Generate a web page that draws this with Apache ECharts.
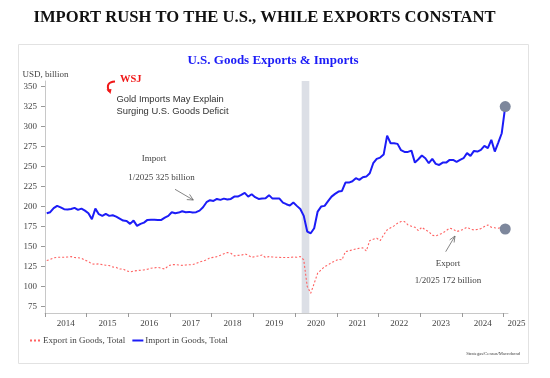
<!DOCTYPE html>
<html><head><meta charset="utf-8">
<script src="https://cdn.jsdelivr.net/npm/echarts@6/dist/echarts.min.js"></script>
<style>html,body{margin:0;padding:0;background:#fff}#c{width:550px;height:378px}</style>
</head><body><div id="c"></div>
<script>
// Monthly data, Jan 2014 .. Jan 2025 (USD billion)
const startYear = 2014;
const years = [2014,2015,2016,2017,2018,2019,2020,2021,2022,2023,2024,2025];
const yTicks = [75,100,125,150,175,200,225,250,275,300,325,350];
const imports = [
191.7,193,198,200.9,199,196.7,196.5,197,198.4,195.9,
197.5,195,191.7,184.2,197.5,190.5,188.4,190.9,188.4,189.2,
187.5,185,182.5,182.1,178.4,182.5,175.9,178.4,180,183.4,
183.6,183.5,183.4,183.4,186.3,188.4,193,191.7,192.5,194.2,
193,193.4,192.5,193,195,199.2,205.5,208,207.1,209.6,
208.4,210,208.8,209.6,212.5,212.5,214.6,217.1,212.5,215.5,
211.8,209.6,210,210.4,214.3,210,210,210,205,203,
201.3,205,200.9,197,188.4,168.8,166.7,173,193.8,200,
200.9,206.8,212.5,215.9,218.8,219.6,230,230,231.7,235.5,
233.4,236.7,237.5,241.7,254.2,259.6,261.3,265,288.8,279.2,
279.2,278.4,270.5,268.4,268.4,270,255,259.2,263.8,260.5,
254.2,259.6,253.4,252.1,255,255,258.4,258.4,255.9,258.4,
260.5,266.8,263.4,269.6,268.8,270.9,275.9,273,283.4,268.8,
280,291.7,325];
const exports = [
132.5,134,135.9,136.7,136.7,136.7,137,137.5,136.3,136,
135.5,133,131.3,128.4,128,128.4,127.5,126.7,126.3,124.5,
124,122,122.1,119.6,118.4,119.5,120,120.5,120.9,121.7,
123,123.4,124.2,123,122,125.9,127.5,127.5,127,126.5,
127,127.3,127.5,128.8,130.7,132,133.4,136,136.5,137.5,
139.2,141,142.5,141.7,138.4,139,139.2,140.9,139.2,136.7,
137.5,138.4,139.6,136.3,137.5,137,136.7,136.5,136.3,136.3,
136.3,137,136.7,137.5,133.4,100,91.7,104,116.8,120.9,
125,127.1,130,132,134.2,133.4,143.8,144.6,145.9,147,
148,148.4,144.6,157.5,159.2,160.5,157.5,164.6,170.9,173.5,
175.9,179.2,181.3,181.3,177.1,175.5,174.2,170,174.2,170.9,
168.8,164.2,163.4,165,166.8,170,173,171.8,168.8,170,
171.8,174.2,171.8,170.9,171.5,172.5,175,177.1,174.2,173.5,
173,174.2,172];
// Recession band (months since Jan 2014)
const recession = [73.9, 76.1];
const seriesNames = ['Export in Goods, Total', 'Import in Goods, Total'];

const toXY = arr => arr.map((v, i) => [i + 0.5, v]);
const lastPt = arr => [arr.length - 0.5, arr[arr.length - 1]];
const yearTicks = years.map((y, i) => i * 12);
const yearLabels = years.map((y, i) => i < years.length - 1 ? i * 12 + 6 : i * 12 + 1);

const serif = 'Liberation Serif';
const chart = echarts.init(document.getElementById('c'), null, {renderer: 'canvas'});
const markerStyle = {symbol: 'circle', symbolSize: 11, itemStyle: {color: '#7d879c'}, label: {show: false}};

chart.setOption({
  animation: false,
  backgroundColor: '#fff',
  grid: {left: 45, right: 42, top: 81, bottom: 65},
  xAxis: {
    type: 'value', min: 0, max: 133.3,
    axisLine: {show: true, lineStyle: {color: '#c8c8c8'}},
    axisTick: {show: true, length: 4, lineStyle: {color: '#999'}, customValues: yearTicks},
    splitLine: {show: false},
    axisLabel: {
      customValues: yearLabels, margin: 6,
      fontFamily: serif, fontSize: 9, color: '#444',
      formatter: v => {
        const y = startYear + Math.floor(v / 12);
        return y === years[years.length - 1] ? '{e|' + y + '}' : String(y);
      },
      rich: {e: {padding: [0, 0, 0, 19], fontFamily: serif, fontSize: 9, color: '#444'}}
    }
  },
  yAxis: {
    type: 'value', min: 67, max: 357,
    axisLine: {show: true, lineStyle: {color: '#c8c8c8'}},
    axisTick: {show: true, length: 4, lineStyle: {color: '#999'}, customValues: yTicks},
    splitLine: {show: false},
    axisLabel: {customValues: yTicks, fontFamily: serif, fontSize: 9, color: '#444', margin: 8}
  },
  legend: {
    data: seriesNames, left: 24, top: 331, itemWidth: 11, itemHeight: 8, itemGap: 6,
    itemStyle: {opacity: 0},
    textStyle: {fontFamily: serif, fontSize: 9, color: '#444', padding: [0, 0, 0, -3]}
  },
  series: [
    {
      name: 'band', type: 'line', data: [], silent: true,
      markArea: {silent: true, itemStyle: {color: '#dcdfe6'},
        data: [[{xAxis: recession[0]}, {xAxis: recession[1]}]]}
    },
    {
      name: seriesNames[0], type: 'line', data: toXY(exports), symbol: 'none',
      lineStyle: {color: '#ff6262', width: 1.1, type: [2, 2]}, itemStyle: {color: '#ff6262'},
      markPoint: Object.assign({data: [{coord: lastPt(exports)}]}, markerStyle)
    },
    {
      name: seriesNames[1], type: 'line', data: toXY(imports), symbol: 'none',
      lineStyle: {color: '#1c1cf7', width: 2}, itemStyle: {color: '#1c1cf7'},
      markPoint: Object.assign({data: [{coord: lastPt(imports)}]}, markerStyle)
    }
  ],
  graphic: [
    {type: 'rect', z: -10, shape: {x: 18.5, y: 44.5, width: 510, height: 319},
      style: {fill: 'none', stroke: '#e2e2e2', lineWidth: 1}},
    {type: 'text', x: 264.5, y: 18, style: {text: 'IMPORT RUSH TO THE U.S., WHILE EXPORTS CONSTANT',
      font: 'bold 16.6px "Liberation Serif"', fill: '#111', align: 'center', verticalAlign: 'middle'}},
    {type: 'text', x: 273, y: 61, style: {text: 'U.S. Goods Exports & Imports',
      font: 'bold 13px "Liberation Serif"', fill: '#1c1cf7', align: 'center', verticalAlign: 'middle'}},
    {type: 'text', x: 22.5, y: 74.5, style: {text: 'USD, billion',
      font: '9px "Liberation Serif"', fill: '#444', align: 'left', verticalAlign: 'middle'}},
    {type: 'text', x: 120, y: 79, style: {text: 'WSJ',
      font: 'bold 10.5px "Liberation Serif"', fill: '#f01818', align: 'left', verticalAlign: 'middle'}},
    {type: 'bezierCurve', shape: {x1: 115, y1: 81.5, x2: 109, y2: 91.5, cpx1: 105, cpy1: 82},
      style: {stroke: '#f01818', lineWidth: 2, fill: 'none'}},
    {type: 'polygon', shape: {points: [[106.5, 89.5], [111.5, 89], [110.5, 94]]},
      style: {fill: '#f01818'}},
    {type: 'text', x: 116.5, y: 99, style: {text: 'Gold Imports May Explain',
      font: '9.4px "Liberation Sans"', fill: '#333', align: 'left', verticalAlign: 'middle'}},
    {type: 'text', x: 116.5, y: 111.5, style: {text: 'Surging U.S. Goods Deficit',
      font: '9.4px "Liberation Sans"', fill: '#333', align: 'left', verticalAlign: 'middle'}},
    {type: 'text', x: 154, y: 159, style: {text: 'Import',
      font: '9px "Liberation Serif"', fill: '#444', align: 'center', verticalAlign: 'middle'}},
    {type: 'text', x: 161.5, y: 177.3, style: {text: '1/2025 325 billion',
      font: '9px "Liberation Serif"', fill: '#444', align: 'center', verticalAlign: 'middle'}},
    {type: 'line', shape: {x1: 175, y1: 189.3, x2: 193.3, y2: 200}, style: {stroke: '#666', lineWidth: 0.8}},
    {type: 'polyline', shape: {points: [[186.8, 199.6], [193.3, 200], [189.6, 194.4]]},
      style: {stroke: '#666', lineWidth: 0.8, fill: 'none'}},
    {type: 'text', x: 448, y: 264, style: {text: 'Export',
      font: '9px "Liberation Serif"', fill: '#444', align: 'center', verticalAlign: 'middle'}},
    {type: 'text', x: 448, y: 280.7, style: {text: '1/2025 172 billion',
      font: '9px "Liberation Serif"', fill: '#444', align: 'center', verticalAlign: 'middle'}},
    {type: 'line', shape: {x1: 445.7, y1: 251.7, x2: 455, y2: 236}, style: {stroke: '#666', lineWidth: 0.8}},
    {type: 'polyline', shape: {points: [[449.7, 239.9], [455, 236], [454.1, 242.5]]},
      style: {stroke: '#666', lineWidth: 0.8, fill: 'none'}},
    {type: 'text', x: 520, y: 353.5, style: {text: 'Strategas/Census/Macrobond',
      font: '4.6px "Liberation Serif"', fill: '#444', align: 'right', verticalAlign: 'middle'}}
  ]
});
</script>
</body></html>
